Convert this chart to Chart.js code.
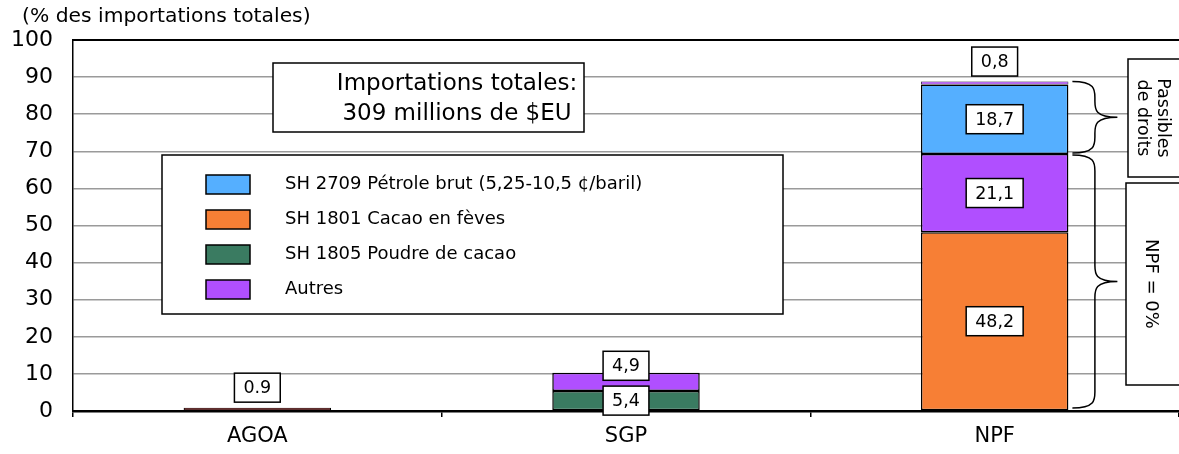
<!DOCTYPE html>
<html>
<head>
<meta charset="utf-8">
<script src="https://cdn.jsdelivr.net/npm/chart.js@4.4.1/dist/chart.umd.min.js"></script>
<style>
  html, body { margin: 0; padding: 0; background: #fff; }
  #wrap { width: 1179px; height: 454px; position: relative; }
</style>
</head>
<body>
<div id="wrap"><canvas id="chart"></canvas></div>
<script>
const categories = ["AGOA", "SGP", "NPF"];
const yTicks = [0, 10, 20, 30, 40, 50, 60, 70, 80, 90, 100];

// values per product, bottom of stack first
const agoaValues = [0.9, null, null];
const poudreValues = [null, 5.4, null];
const feveValues = [null, null, 48.2];
const autresValues = [null, 4.9, 21.1];
const petroleValues = [null, null, 18.7];
const passiblesAutres = [null, null, 0.8];

const legendLabels = [
  "SH 2709 Pétrole brut (5,25-10,5 ¢/baril)",
  "SH 1801 Cacao en fèves",
  "SH 1805 Poudre de cacao",
  "Autres"
];
const legendColors = ["#55AFFF", "#F77F35", "#3A7B61", "#B04FFF"];

const axisTitle = "(% des importations totales)";
const totalText = ["Importations totales:", "309 millions de $EU"];
const passiblesText = ["Passibles", "de droits"];
const npfText = "NPF = 0%";

const FONT = "'DejaVu Sans', Verdana, sans-serif";

function fmt(v, sep) {
  return v.toFixed(1).replace(".", sep);
}

function boxText(ctx, txt, cx, cy) {
  ctx.font = "17.5px " + FONT;
  const w = ctx.measureText(txt).width + 18;
  const h = 29;
  ctx.fillStyle = "#fff";
  ctx.fillRect(cx - w / 2, cy - h / 2, w, h);
  ctx.strokeStyle = "#000";
  ctx.lineWidth = 1.5;
  ctx.strokeRect(cx - w / 2, cy - h / 2, w, h);
  ctx.fillStyle = "#000";
  ctx.textAlign = "center";
  ctx.textBaseline = "middle";
  ctx.fillText(txt, cx, cy + 1);
}

function brace(ctx, x, y1, y2, w) {
  const m = (y1 + y2) / 2, xm = x + w / 2;
  const r = Math.min(16, (y2 - y1) / 4);
  ctx.beginPath();
  ctx.moveTo(x, y1);
  ctx.bezierCurveTo(xm, y1, xm, y1 + r / 2, xm, y1 + r);
  ctx.lineTo(xm, m - r);
  ctx.bezierCurveTo(xm, m - r / 2, xm, m, x + w, m);
  ctx.bezierCurveTo(xm, m, xm, m + r / 2, xm, m + r);
  ctx.lineTo(xm, y2 - r);
  ctx.bezierCurveTo(xm, y2 - r / 2, xm, y2, x, y2);
  ctx.strokeStyle = "#000";
  ctx.lineWidth = 1.5;
  ctx.stroke();
}

function rotatedBox(ctx, lines, x1, y1, x2, y2, size) {
  ctx.fillStyle = "#fff";
  ctx.fillRect(x1, y1, x2 - x1, y2 - y1);
  ctx.strokeStyle = "#000";
  ctx.lineWidth = 1.5;
  ctx.strokeRect(x1, y1, x2 - x1, y2 - y1);
  ctx.save();
  ctx.translate(x1 + 25, (y1 + y2) / 2);
  ctx.rotate(Math.PI / 2);
  ctx.font = size + "px " + FONT;
  ctx.fillStyle = "#000";
  ctx.textAlign = "center";
  ctx.textBaseline = "middle";
  const lh = 20;
  lines.forEach((t, i) => {
    ctx.fillText(t, 0, (i - (lines.length - 1) / 2) * lh);
  });
  ctx.restore();
}

const decorations = {
  id: "decorations",
  afterDatasetsDraw(chart) {
    const ctx = chart.ctx;
    const area = chart.chartArea;
    const y = chart.scales.y;
    ctx.save();

    // top border
    ctx.strokeStyle = "#000";
    ctx.lineWidth = 2;
    ctx.beginPath();
    ctx.moveTo(area.left, area.top);
    ctx.lineTo(area.right, area.top);
    ctx.stroke();

    // axis title
    ctx.font = "20.3px " + FONT;
    ctx.fillStyle = "#000";
    ctx.textAlign = "left";
    ctx.textBaseline = "middle";
    ctx.fillText(axisTitle, 22, 17);

    // total box
    ctx.fillStyle = "#fff";
    ctx.fillRect(273, 63, 311, 69);
    ctx.strokeStyle = "#000";
    ctx.lineWidth = 1.5;
    ctx.strokeRect(273, 63, 311, 69);
    ctx.font = "23px " + FONT;
    ctx.fillStyle = "#000";
    ctx.textAlign = "center";
    ctx.fillText(totalText[0], 457, 84);
    ctx.fillText(totalText[1], 457, 114);

    // legend
    ctx.fillStyle = "#fff";
    ctx.fillRect(162, 155, 621, 159);
    ctx.lineWidth = 1.5;
    ctx.strokeRect(162, 155, 621, 159);
    ctx.font = "18px " + FONT;
    legendLabels.forEach((lab, i) => {
      const cy = 184 + i * 35;
      ctx.fillStyle = legendColors[i];
      ctx.fillRect(206, cy - 9, 44, 19);
      ctx.strokeStyle = "#000";
      ctx.lineWidth = 1.5;
      ctx.strokeRect(206, cy - 9, 44, 19);
      ctx.fillStyle = "#000";
      ctx.textAlign = "left";
      ctx.fillText(lab, 285, cy);
    });

    // value labels
    chart.data.datasets.forEach((ds, di) => {
      const meta = chart.getDatasetMeta(di);
      meta.data.forEach((el, i) => {
        const v = ds.data[i];
        if (v == null) return;
        const h = el.base - el.y;
        let cy;
        if (h < 6) cy = el.y - 20;
        else if (h < 19) cy = el.y - 7;
        else cy = (el.y + el.base) / 2;
        boxText(ctx, fmt(v, ds.sep), el.x, cy);
      });
    });

    // braces on NPF
    const npfEl = chart.getDatasetMeta(5).data[2];
    const bx = npfEl.x + npfEl.width / 2 + 4;
    const topVal = feveValues[2] + autresValues[2] + petroleValues[2] + passiblesAutres[2];
    const splitVal = feveValues[2] + autresValues[2];
    brace(ctx, bx, y.getPixelForValue(topVal), y.getPixelForValue(splitVal) - 1, 45);
    brace(ctx, bx, y.getPixelForValue(splitVal) + 1, y.getPixelForValue(0) - 3, 45);

    rotatedBox(ctx, passiblesText, 1128, 59, 1186, 177, 17.5);
    rotatedBox(ctx, [npfText], 1126, 183, 1186, 385, 18);

    ctx.restore();
  }
};

function barSet(label, data, color, sep, bw) {
  return {
    label: label,
    data: data,
    backgroundColor: color,
    borderColor: "#000",
    borderWidth: bw,
    borderSkipped: false,
    stack: "s",
    sep: sep
  };
}

new Chart(document.getElementById("chart"), {
  type: "bar",
  data: {
    labels: categories,
    datasets: [
      barSet("AGOA", agoaValues, "#C00000", ".", 1),
      barSet(legendLabels[2], poudreValues, legendColors[2], ",", 1.5),
      barSet(legendLabels[1], feveValues, legendColors[1], ",", 1.5),
      barSet(legendLabels[3], autresValues, legendColors[3], ",", 1.5),
      barSet(legendLabels[0], petroleValues, legendColors[0], ",", 1.5),
      barSet("Autres (passibles)", passiblesAutres, legendColors[3], ",", 0.8)
    ]
  },
  options: {
    responsive: true,
    maintainAspectRatio: false,
    animation: false,
    layout: { padding: { top: 40, right: 0, bottom: 0, left: 0 } },
    datasets: { bar: { categoryPercentage: 1, barPercentage: 0.4 } },
    plugins: {
      legend: { display: false },
      tooltip: { enabled: false }
    },
    scales: {
      x: {
        stacked: true,
        grid: {
          display: true,
          offset: true,
          drawOnChartArea: false,
          drawTicks: true,
          tickLength: 6,
          color: "#000",
          lineWidth: 1.5
        },
        border: { display: true, color: "#000", width: 2.5 },
        ticks: {
          color: "#000",
          font: { family: FONT, size: 21 },
          padding: 7
        },
        afterFit(scale) { scale.height = 43; }
      },
      y: {
        stacked: true,
        min: 0,
        max: 100,
        afterBuildTicks(scale) {
          scale.ticks = yTicks.map(v => ({ value: v }));
        },
        grid: {
          color: "#9a9a9a",
          lineWidth: 1.5,
          drawTicks: false
        },
        border: { display: true, color: "#000", width: 1.5 },
        ticks: {
          color: "#000",
          font: { family: FONT, size: 22 },
          padding: 20
        },
        afterFit(scale) { scale.width = 73; }
      }
    }
  },
  plugins: [decorations]
});
</script>
</body>
</html>
